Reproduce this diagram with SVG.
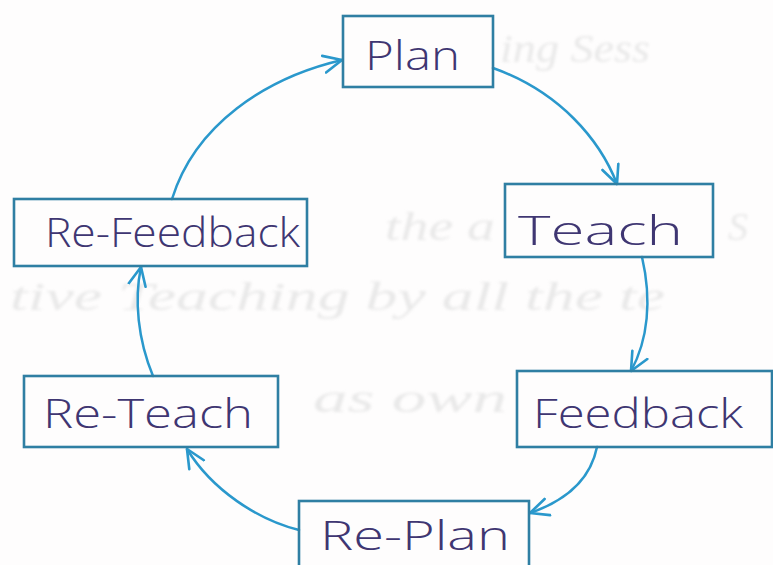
<svg xmlns="http://www.w3.org/2000/svg" width="773" height="565" viewBox="0 0 773 565">
  <style>
    .box { fill: none; stroke: #2f7fa3; stroke-width: 2.6; }
    .label { font-family: "Open Sans", "DejaVu Sans", sans-serif; font-weight: 300; fill: #3f3672; font-size: 40px; }
    .link { fill: none; stroke: #2a98cc; stroke-width: 2.5; stroke-linecap: round; }
    .ghost { font-family: "Liberation Serif", serif; font-style: italic; fill: #e2e2e2; font-size: 40px; }
  </style>
  <defs>
    <marker id="head" viewBox="0 0 16 16" refX="15" refY="8" markerWidth="21" markerHeight="21" markerUnits="userSpaceOnUse" orient="auto">
      <path d="M1,1.5 L15,8 L1,14.5" fill="none" stroke="#2a98cc" stroke-width="2" stroke-linecap="round" stroke-linejoin="round"/>
    </marker>
    <filter id="soft" x="-10%" y="-30%" width="120%" height="160%">
      <feGaussianBlur stdDeviation="1.6"/>
    </filter>
  </defs>

  <rect width="773" height="565" fill="#fefdfd"/>

  <!-- faint writing showing through the page -->
  <g id="paper-bleed" filter="url(#soft)" opacity="0.75">
    <text class="ghost" x="500" y="62" textLength="150" lengthAdjust="spacingAndGlyphs">ing Sess</text>
    <text class="ghost" x="385" y="240" textLength="110" lengthAdjust="spacingAndGlyphs">the a</text>
    <text class="ghost" x="728" y="240">S</text>
    <text class="ghost" x="10" y="310" textLength="655" lengthAdjust="spacingAndGlyphs">tive Teaching by all the te</text>
    <text class="ghost" x="313" y="412" textLength="194" lengthAdjust="spacingAndGlyphs">as  own</text>
  </g>

  <!-- cycle connectors -->
  <g id="connectors">
    <path class="link" marker-end="url(#head)" d="M172,199 C195,125 265,78 342,60"/>
    <path class="link" marker-end="url(#head)" d="M493,68 C560,92 600,140 617,184"/>
    <path class="link" marker-end="url(#head)" d="M642,257 C652,300 648,340 631,371"/>
    <path class="link" marker-end="url(#head)" d="M597,447 C590,482 562,502 530,513"/>
    <path class="link" marker-end="url(#head)" d="M299,530 C258,520 212,490 187,449"/>
    <path class="link" marker-end="url(#head)" d="M153,376 C138,340 134,300 141,267"/>
  </g>

  <g id="plan">
    <rect class="box" x="343" y="16" width="150" height="71"/>
    <text class="label" x="365" y="70" textLength="95" lengthAdjust="spacingAndGlyphs">Plan</text>
  </g>
  <g id="teach">
    <rect class="box" x="505" y="184" width="208" height="73"/>
    <text class="label" x="518" y="245" textLength="165" lengthAdjust="spacingAndGlyphs">Teach</text>
  </g>
  <g id="feedback">
    <rect class="box" x="517" y="371" width="255" height="76"/>
    <text class="label" x="533" y="428" textLength="210" lengthAdjust="spacingAndGlyphs">Feedback</text>
  </g>
  <g id="re-plan">
    <rect class="box" x="299" y="501" width="230" height="70"/>
    <text class="label" x="320" y="550" textLength="190" lengthAdjust="spacingAndGlyphs">Re-Plan</text>
  </g>
  <g id="re-teach">
    <rect class="box" x="24" y="376" width="254" height="71"/>
    <text class="label" x="43" y="428" textLength="210" lengthAdjust="spacingAndGlyphs">Re-Teach</text>
  </g>
  <g id="re-feedback">
    <rect class="box" x="14" y="199" width="293" height="67"/>
    <text class="label" x="45" y="247" textLength="255" lengthAdjust="spacingAndGlyphs">Re-Feedback</text>
  </g>
</svg>
